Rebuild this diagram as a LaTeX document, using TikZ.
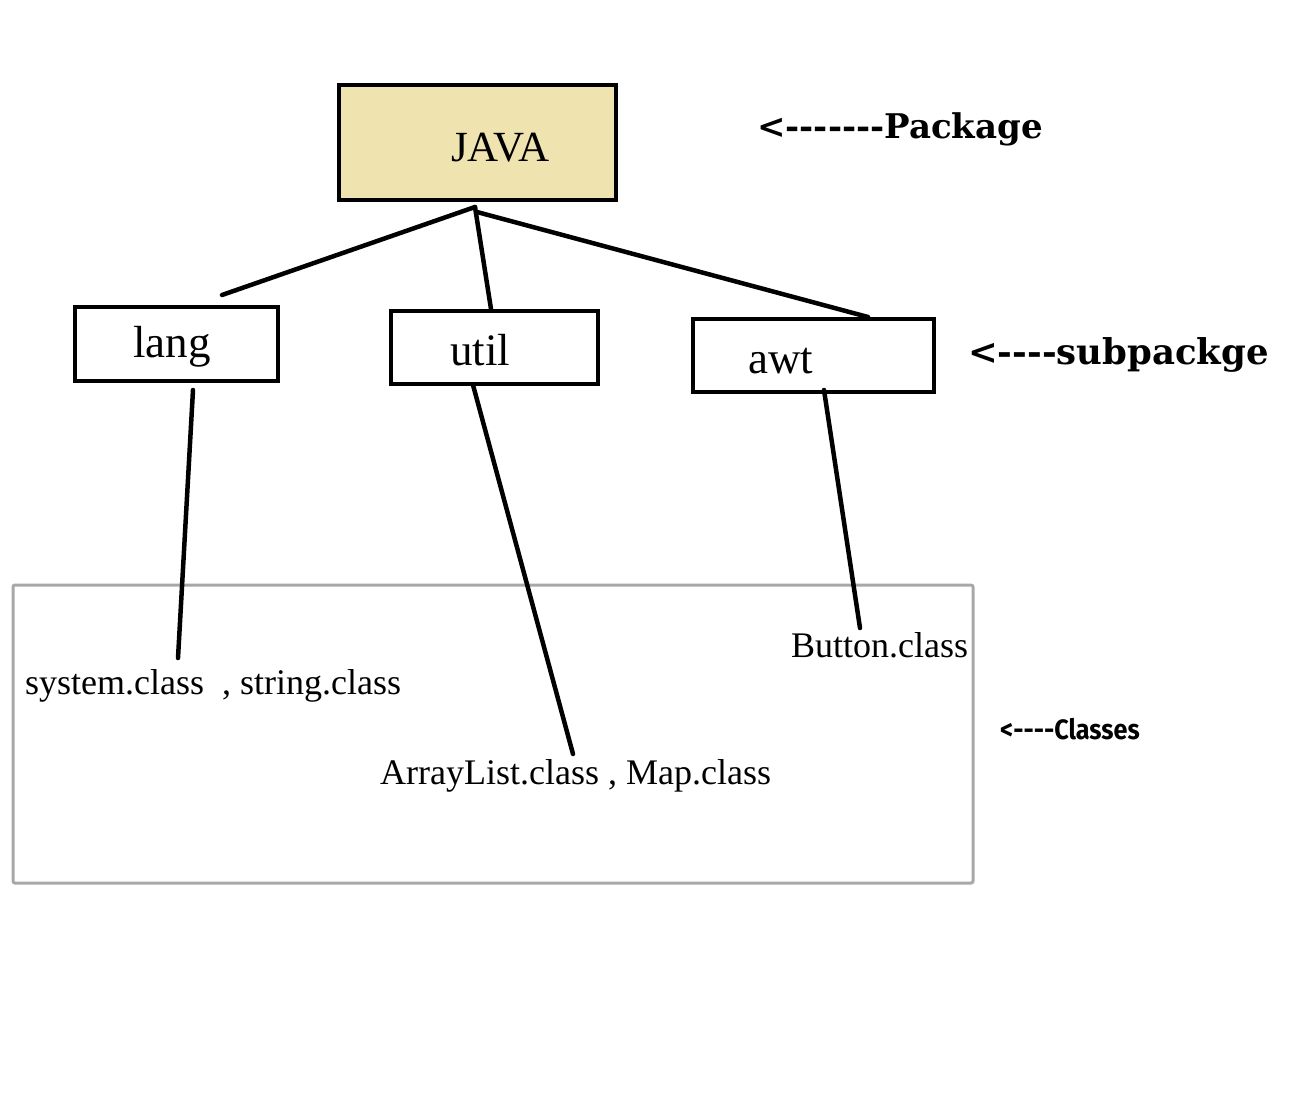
\documentclass[tikz,border=0pt]{standalone}
\usepackage{fontspec}
\setmainfont{Liberation Serif}
\newfontfamily\coopfont{DejaVu Serif}
\newfontfamily\narrowfont{Fira Sans}
\definecolor{javafill}{HTML}{EFE3B0}
\definecolor{classgray}{HTML}{A8A8A8}
\newcommand\hy{\mbox{-}}
\begin{document}
\begin{tikzpicture}[x=1pt,y=-1pt,
  conn/.style={line width=4.5pt, line cap=round},
  boxline/.style={line width=4.5pt},
  boxtext/.style={anchor=base west, inner sep=0pt, font=\fontsize{45}{50}\selectfont},
  classtext/.style={anchor=base west, inner sep=0pt, font=\fontsize{36}{40}\selectfont},
  biglabel/.style={anchor=base west, inner sep=0pt, font=\coopfont\bfseries\fontsize{#1}{40}\selectfont},
]
\useasboundingbox (0,0) rectangle (1304,1096);

% classes frame
\draw[classgray, line width=3pt, rounded corners=2pt] (13,585) rectangle (973,883);

% boxes
\draw[boxline, fill=javafill] (339,85) rectangle (616,200);
\node[inner sep=0pt, minimum width=277pt, minimum height=115pt] (java) at (477.5,142.5) {};
\draw[boxline] (75,307) rectangle (278,381);
\node[inner sep=0pt, minimum width=203pt, minimum height=74pt] (lang) at (176.5,344) {};
\draw[boxline] (391,311) rectangle (598,384);
\node[inner sep=0pt, minimum width=207pt, minimum height=73pt] (util) at (494.5,347.5) {};
\draw[boxline] (693,319) rectangle (934,392);
\node[inner sep=0pt, minimum width=241pt, minimum height=73pt] (awt) at (813.5,355.5) {};

% texts in boxes
\node[anchor=base west, inner sep=0pt, font=\fontsize{43}{48}\selectfont] (javat) at (451,161) {JAVA};
\node[boxtext] (langt) at (133,357) {lang};
\node[boxtext] (utilt) at (450,365) {util};
\node[boxtext] (awtt) at (748,373) {awt};

% class texts
\node[classtext] (langc) at (25,694) {system.class\ \ , string.class};
\node[classtext] (utilc) at (380,784) {ArrayList.class , Map.class};
\node[classtext] (awtc) at (791,657) {Button.class};

% side labels
\node[biglabel=34] (pkg) at (757,138) {<\hy\hy\hy\hy\hy\hy\hy Package};
\node[biglabel=35.5] (sub) at (968,364) {<\hy\hy\hy\hy subpackge};
\node[anchor=base west, inner sep=0pt, font=\narrowfont\bfseries\fontsize{28}{32}\selectfont, xscale=0.9, transform shape] (cls) at (1000,739) {<\hy\hy\hy\hy Classes};

% connector end points
\coordinate (j1) at (475,207);
\coordinate (j2) at (477,212);
\coordinate (l1) at (222,295);
\coordinate (u1) at (491,309);
\coordinate (a1) at (868,317);
\coordinate (l2) at (193,390);
\coordinate (l3) at (178,658);
\coordinate (u2) at (473,385);
\coordinate (u3) at (573,754);
\coordinate (a2) at (824,390);
\coordinate (a3) at (860,628);

\draw[conn] (j1) -- (l1);
\draw[conn] (j1) -- (u1);
\draw[conn] (j2) -- (a1);
\draw[conn] (l2) -- (l3);
\draw[conn] (u2) -- (u3);
\draw[conn] (a2) -- (a3);
\end{tikzpicture}
\end{document}
